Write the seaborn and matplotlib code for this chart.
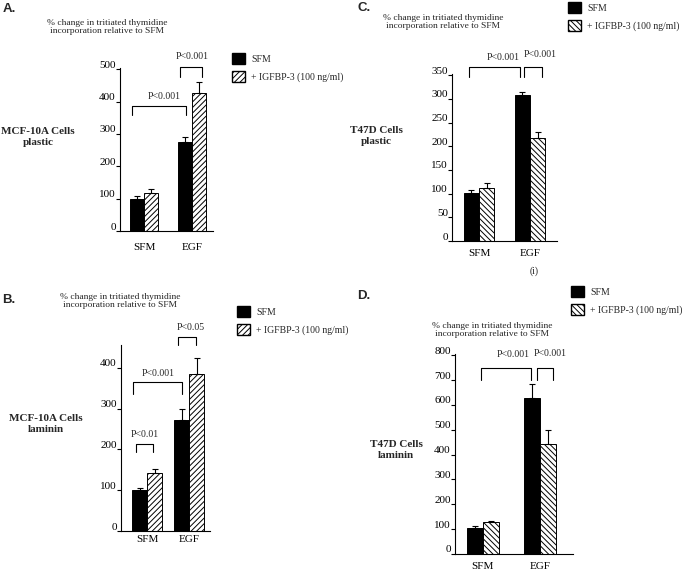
import numpy as np
import pandas as pd
import matplotlib
matplotlib.use("Agg")
import matplotlib.pyplot as plt
import matplotlib.transforms as mtransforms
from matplotlib.patches import Patch
import seaborn as sns

sns.set_theme(style="white")
plt.rcParams["font.family"] = ["Liberation Serif", "DejaVu Serif"]
plt.rcParams["hatch.linewidth"] = 0.7

conditions = ["SFM", "EGF"]
treatments = ["SFM", "+ IGFBP-3 (100 ng/ml)"]

# A: MCF-10A plastic
a_sfm = [99, 275]
a_igf = [117, 427]
a_sfm_err = [9, 16]
a_igf_err = [13, 34]
# B: MCF-10A laminin
b_sfm = [100, 271]
b_igf = [141, 385]
b_sfm_err = [5, 28]
b_igf_err = [12, 39]
# C: T47D plastic
c_sfm = [102, 309]
c_igf = [112, 218]
c_sfm_err = [6, 5]
c_igf_err = [11, 12]
# D: T47D laminin
d_sfm = [103, 629]
d_igf = [128, 443]
d_sfm_err = [11, 54]
d_igf_err = [4, 56]

W, H = 685, 571
fig = plt.figure(figsize=(W / 100, H / 100), dpi=100)


def fx(x):
    return x / W


def fy(y):
    return 1 - y / H


def panel(left, right, top, bottom, sfm, igf, sfm_err, igf_err, ymax, yticks,
          xlim, width, hatch, xpad):
    ax = fig.add_axes([fx(left), fy(bottom), fx(right - left), (bottom - top) / H])
    df = pd.DataFrame({
        "cond": conditions * 2,
        "treat": [treatments[0]] * 2 + [treatments[1]] * 2,
        "val": sfm + igf,
    })
    sns.barplot(data=df, x="cond", y="val", hue="treat", order=conditions,
                hue_order=treatments, palette=["black", "white"], edgecolor="black",
                linewidth=0.7, width=width, gap=0, errorbar=None, legend=False, ax=ax)
    bars = list(ax.patches)
    for p in bars[2:]:
        p.set_hatch(hatch)
    xs = [p.get_x() + p.get_width() / 2 for p in bars]
    hs = [p.get_height() for p in bars]
    errs = sfm_err + igf_err
    ax.errorbar(xs, hs, yerr=[np.zeros(4), errs], fmt="none", ecolor="black",
                elinewidth=0.8, capsize=2, capthick=0.8)
    ax.set_xlim(*xlim)
    ax.set_ylim(0, ymax)
    ax.set_yticks(yticks)
    ax.set_xlabel("")
    ax.set_ylabel("")
    for s in ["top", "right"]:
        ax.spines[s].set_visible(False)
    for s in ["left", "bottom"]:
        ax.spines[s].set_color("black")
        ax.spines[s].set_linewidth(0.8)
    ax.tick_params(axis="y", direction="out", length=3, width=0.8, pad=0,
                   labelsize=8, colors="black", left=True)
    ax.tick_params(axis="x", length=0, pad=xpad, labelsize=8, colors="black")
    shift = mtransforms.ScaledTranslation(0, 0.05, fig.dpi_scale_trans)
    for t in ax.yaxis.get_major_ticks():
        t.label1.set_transform(t.label1.get_transform() + shift)
    return ax


def bracket(ax, x0, x1, ytop, ybot, label=None, tx=None, ty=None):
    ax.plot([x0, x0, x1, x1], [ybot, ytop, ytop, ybot], color="black", lw=0.8,
            clip_on=False)
    if label:
        ax.text(tx, ty, label, ha="center", va="center", fontsize=7, clip_on=False)


def legend(x, y, hatch):
    handles = [Patch(facecolor="black", edgecolor="black"),
               Patch(facecolor="white", edgecolor="black", hatch=hatch)]
    fig.legend(handles, treatments, loc="upper left", bbox_to_anchor=(fx(x), fy(y)),
               bbox_transform=fig.transFigure, frameon=False, fontsize=7,
               handlelength=1.35, handleheight=1.35, handletextpad=0.6,
               labelspacing=0.75, borderpad=0, borderaxespad=0)


def side_texts(letter, lx, ly, tx, ty, cell, cx, cy):
    fig.text(fx(lx), fy(ly), letter, ha="left", va="center", fontsize=9.5,
             fontweight="bold", family=["Liberation Sans", "DejaVu Sans"])
    fig.text(fx(tx), fy(ty), "% change in tritiated thymidine\nincorporation relative to SFM",
             ha="center", va="center", fontsize=6.8, linespacing=1.15)
    fig.text(fx(cx), fy(cy), cell, ha="center", va="center", fontsize=8,
             fontweight="bold", linespacing=1.4)


# Panel A
ax = panel(120, 213, 67.7, 231, a_sfm, a_igf, a_sfm_err, a_igf_err, 505,
           range(0, 501, 100), (-0.5, 1.44), 0.6, "//////", 9)
bracket(ax, -0.26, 0.87, 387, 359, "P<0.001", 0.42, 415)
bracket(ax, 0.75, 1.22, 508, 477, "P<0.001", 1.01, 540)
legend(232, 53, "//////")
side_texts("A.", 3, 9, 107, 27, "MCF-10A Cells\nplastic", 38, 137)

# Panel B
ax = panel(121, 210, 345, 531, b_sfm, b_igf, b_sfm_err, b_igf_err, 456,
           range(0, 401, 100), (-0.63, 1.5), 0.71, "//////", 3)
bracket(ax, -0.34, 0.82, 366, 337, "P<0.001", 0.26, 387)
bracket(ax, -0.27, 0.14, 213, 194, "P<0.01", -0.05, 236)
bracket(ax, 0.74, 1.17, 476, 456, "P<0.05", 1.03, 500)
legend(237, 306, "//////")
side_texts("B.", 2, 300, 120, 301, "MCF-10A Cells\nlaminin", 46, 424)

# Panel C
ax = panel(452, 557, 74.2, 241, c_sfm, c_igf, c_sfm_err, c_igf_err, 352,
           range(0, 351, 50), (-0.53, 1.53), 0.6, "\\\\\\\\\\\\", 6)
bracket(ax, -0.19, 0.8, 368, 346, "P<0.001", 0.48, 388)
bracket(ax, 0.89, 1.23, 368, 346, "P<0.001", 1.2, 394)
legend(568, 2, "\\\\\\\\\\\\")
side_texts("C.", 357, 8, 443, 22, "T47D Cells\nplastic", 376, 136)
fig.text(fx(534), fy(271), "(i)", ha="center", va="center", fontsize=7)

# Panel D
ax = panel(455, 573, 354, 554, d_sfm, d_igf, d_sfm_err, d_igf_err, 805,
           range(0, 801, 100), (-0.49, 1.58), 0.56, "\\\\\\\\\\\\", 6)
bracket(ax, -0.04, 0.84, 748, 700, "P<0.001", 0.53, 801)
bracket(ax, 0.94, 1.23, 748, 700, "P<0.001", 1.18, 805)
legend(571, 286, "\\\\\\\\\\\\")
side_texts("D.", 357, 296, 492, 330, "T47D Cells\nlaminin", 396, 450)

fig.savefig("out.png", dpi=100, facecolor="white")
